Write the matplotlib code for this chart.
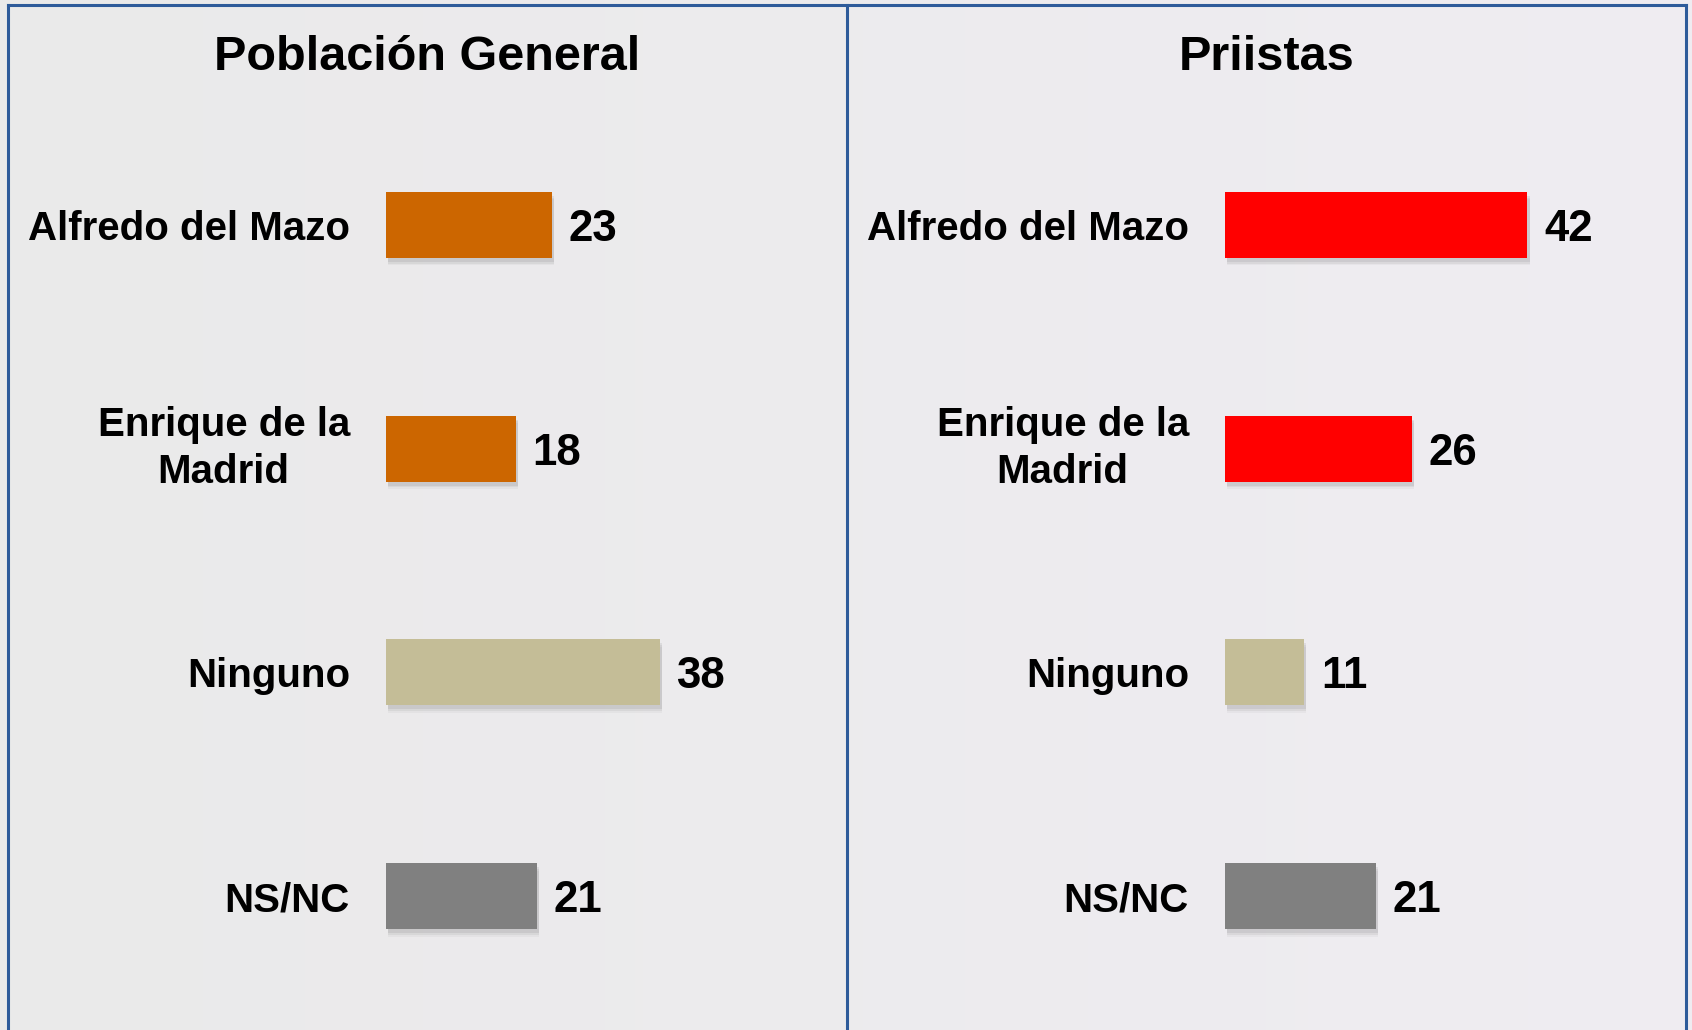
import matplotlib
matplotlib.use('Agg')
import matplotlib.pyplot as plt
import numpy as np
from matplotlib.lines import Line2D

plt.rcParams['font.family'] = ['Liberation Sans', 'DejaVu Sans']
plt.rcParams['font.weight'] = 'bold'

categories = ['Alfredo del Mazo', 'Enrique de la\nMadrid', 'Ninguno', 'NS/NC']
general = [23, 18, 38, 21]
priistas = [42, 26, 11, 21]
titles = ['Población General', 'Priistas']
colors_general = ['#CC6600', '#CC6600', '#C4BD97', '#808080']
colors_priistas = ['#FF0000', '#FF0000', '#C4BD97', '#808080']

W, H = 1692, 1030
fig = plt.figure(figsize=(W / 100, H / 100), dpi=100)
fig.patch.set_facecolor('#EAEAEA')

# soft background gradient
bg = fig.add_axes([0, 0, 1, 1], zorder=-10)
xx = np.linspace(0, 1, 400)
grad = np.zeros((10, 400, 3))
grad[:, :, 0] = 0.918 + 0.02 * xx
grad[:, :, 1] = 0.918 + 0.01 * xx
grad[:, :, 2] = 0.918 + 0.03 * xx
bg.imshow(grad, aspect='auto', extent=[0, 1, 0, 1])
bg.axis('off')

px_per_unit = 7.2
ax_w = 440
y_top, y_bot = 113, 1008
panels = [(386, general, colors_general, 427), (1225, priistas, colors_priistas, 1267)]

for (left, vals, cols, tx), title in zip(panels, titles):
    ax = fig.add_axes([left / W, (H - y_bot) / H, ax_w / W, (y_bot - y_top) / H])
    ax.set_facecolor('none')
    ypos = np.arange(len(categories))
    # drop shadow
    for k, a in enumerate([0.10, 0.08, 0.05]):
        ax.barh(ypos + 0.018 + 0.008 * k, vals, height=0.295, left=0.3,
                color='#555555', alpha=a, zorder=1)
    ax.barh(ypos, vals, height=0.295, color=cols, zorder=2)
    for y, v in zip(ypos, vals):
        ax.annotate(str(v), (v, y), xytext=(12, 0), textcoords='offset points',
                    ha='left', va='center_baseline', fontsize=31.5, fontweight='bold',
                    color='black')
    ax.set_xlim(0, ax_w / px_per_unit)
    ax.set_ylim(len(categories) - 0.5, -0.5)
    ax.set_yticks(ypos)
    ax.set_yticklabels(categories, fontsize=29, fontweight='bold')
    for t in ax.get_yticklabels():
        t.set_multialignment('center')
        t.set_linespacing(1.3)
        if '\n' in t.get_text():
            t.set_va('center')
    ax.tick_params(axis='y', length=0, pad=26)
    ax.set_xticks([])
    for s in ax.spines.values():
        s.set_visible(False)
    fig.text(tx / W, 1 - 58 / H, title, ha='center', va='center',
             fontsize=35, fontweight='bold', color='black')

# frame lines
lc = '#2E5B9A'
for x in [8, 847, 1686]:
    fig.add_artist(Line2D([x / W, x / W], [0, 1 - 5 / H], color=lc, lw=2.2))
fig.add_artist(Line2D([8 / W, 1686 / W], [1 - 5 / H, 1 - 5 / H], color=lc, lw=2.2))

fig.savefig('out.png', dpi=100, facecolor=fig.get_facecolor())
